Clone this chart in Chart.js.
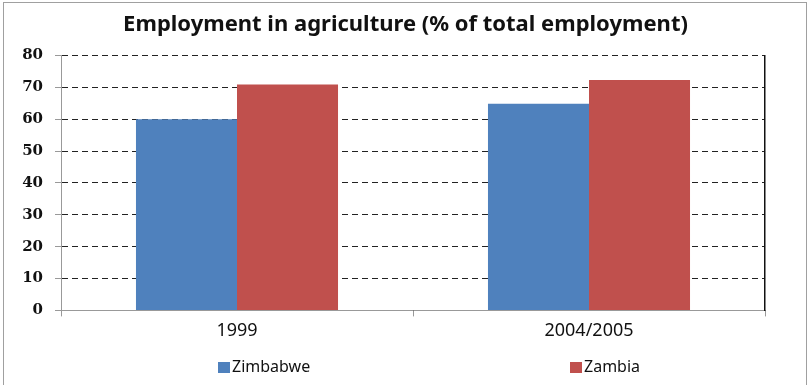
<!DOCTYPE html>
<html>
<head>
<meta charset="utf-8">
<script src="https://cdn.jsdelivr.net/npm/chart.js@4.4.0/dist/chart.umd.min.js"></script>
<style>
  html, body { margin: 0; padding: 0; background: #fff; }
  #wrap { position: relative; width: 811px; height: 385px; overflow: hidden; }
  #frame { position: absolute; left: 3px; top: 2px; width: 804px; height: 400px; border: 1px solid #a0a0a0; box-sizing: border-box; pointer-events: none; }
  #legend { position: absolute; top: 355px; left: 0; width: 811px; height: 24px; font: 16px "Noto Sans", sans-serif; color: #111; }
  .item { position: absolute; top: 0; white-space: nowrap; }
  .box { display: inline-block; width: 12px; height: 11px; margin-right: 2px; vertical-align: -1px; }
</style>
</head>
<body>
<div id="wrap">
  <canvas id="chart" width="811" height="385"></canvas>
  <div id="legend"></div>
  <div id="frame"></div>
</div>
<script>
// Employment in agriculture, % of total employment
const CATEGORIES = ['1999', '2004/2005'];
const ZIMBABWE = [60.0, 64.8];
const ZAMBIA = [70.9, 72.3];
const Y_TICKS = [0, 10, 20, 30, 40, 50, 60, 70, 80];

const ctx = document.getElementById('chart');

const chart = new Chart(ctx, {
    type: 'bar',
    data: {
        labels: CATEGORIES,
        datasets: [
            { label: 'Zimbabwe', data: ZIMBABWE, backgroundColor: '#4f81bd', borderWidth: 0 },
            { label: 'Zambia', data: ZAMBIA, backgroundColor: '#c0504d', borderWidth: 0 }
        ]
    },
    options: {
        responsive: false,
        animation: false,
        layout: { padding: { left: 0, right: 0, top: 4, bottom: 39 } },
        datasets: { bar: { categoryPercentage: 0.574, barPercentage: 1.0 } },
        plugins: {
            title: {
                display: true,
                text: 'Employment in agriculture (% of total employment)',
                color: '#111',
                font: { family: 'Noto Sans', size: 22, weight: 'bold' },
                padding: { top: 8, bottom: 17 }
            },
            legend: { display: false },
            tooltip: { enabled: false }
        },
        scales: {
            x: {
                offset: true,
                grid: { display: true, drawOnChartArea: false, drawTicks: true, tickLength: 6, color: '#999' },
                border: { display: true, color: '#999' },
                ticks: { color: '#111', font: { family: 'Noto Sans', size: 18 }, padding: 4 }
            },
            y: {
                min: 0,
                max: 80,
                afterBuildTicks: axis => { axis.ticks = Y_TICKS.map(v => ({ value: v })); },
                afterFit: axis => { axis.width = 61; },
                grid: { color: '#222', tickLength: 6, tickColor: '#999', tickBorderDash: [] },
                border: { display: true, color: '#999', dash: [6, 4] },
                ticks: { autoSkip: false, color: '#111', font: { family: 'DejaVu Serif', size: 15, weight: 'bold' }, padding: 12 }
            },
            yRight: {
                position: 'right',
                min: 0,
                max: 80,
                afterFit: axis => { axis.width = 46; },
                grid: { display: false },
                border: { display: true, color: '#111', width: 1.5 },
                ticks: { display: false }
            }
        }
    }
});

// legend built from the chart's datasets, placed like the Excel one
const LEGEND_X = [218, 570];
const legendEl = document.getElementById('legend');
chart.data.datasets.forEach((ds, i) => {
    const item = document.createElement('span');
    item.className = 'item';
    item.style.left = LEGEND_X[i] + 'px';
    item.innerHTML = `<span class="box" style="background:${ds.backgroundColor}"></span>${ds.label}`;
    legendEl.appendChild(item);
});
</script>
</body>
</html>
